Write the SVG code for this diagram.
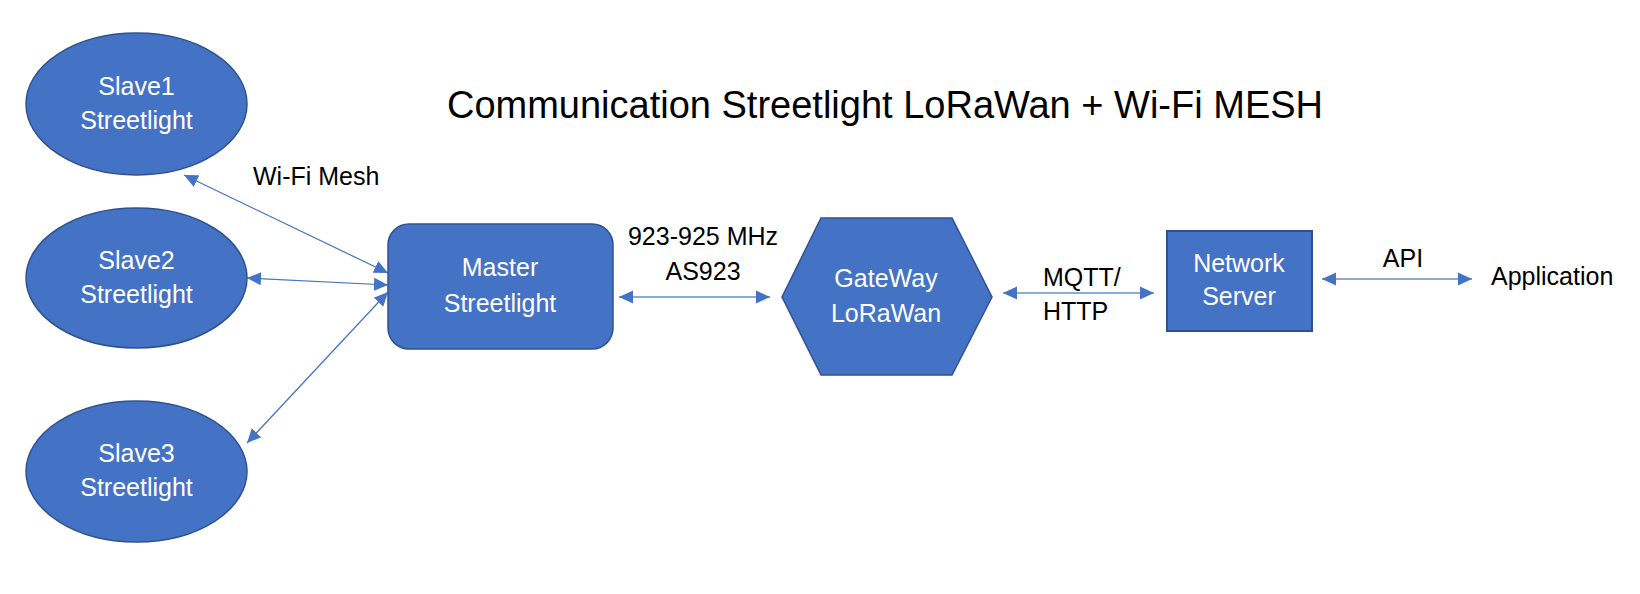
<svg xmlns="http://www.w3.org/2000/svg" width="1640" height="594" viewBox="0 0 1640 594">
<style>
.node{fill:#4472C4;stroke:#2F528F;stroke-width:1.5}
.nt{font-family:"Liberation Sans",Arial,sans-serif;font-size:25px;fill:#FFFFFF;text-anchor:middle}
.lbl{font-family:"Liberation Sans",Arial,sans-serif;font-size:25px;fill:#000000}
.mesh{fill:none;stroke:#4472C4;stroke-width:1.2;marker-start:url(#ah);marker-end:url(#ah)}
.link{fill:none;stroke:#8EA9DB;stroke-width:2.2;marker-start:url(#ah);marker-end:url(#ah)}
</style>
<defs>
<marker id="ah" markerUnits="userSpaceOnUse" markerWidth="14" markerHeight="14" viewBox="0 0 14 14" refX="14" refY="7" orient="auto-start-reverse">
<path d="M0,0.5 L14,7 L0,13.5 z" fill="#4472C4"/>
</marker>
</defs>
<rect width="1640" height="594" fill="#FFFFFF"/>
<text id="title" x="885" y="118" font-family="'Liberation Sans',Arial,sans-serif" font-size="38" fill="#000000" text-anchor="middle">Communication Streetlight LoRaWan + Wi-Fi MESH</text>
<g id="connectors">
<line class="mesh" x1="388" y1="273" x2="184" y2="175"/>
<line class="mesh" x1="388" y1="285" x2="247" y2="278"/>
<line class="mesh" x1="388" y1="292" x2="247" y2="443"/>
<line class="link" x1="619" y1="297" x2="770" y2="297"/>
<line class="link" x1="1003" y1="293" x2="1154" y2="293"/>
<line class="link" x1="1322" y1="279" x2="1472" y2="279"/>
<text class="lbl" x="253" y="185">Wi-Fi Mesh</text>
<text class="lbl" x="703" y="245" text-anchor="middle">923-925 MHz</text>
<text class="lbl" x="703" y="280" text-anchor="middle">AS923</text>
<text class="lbl" x="1043" y="286">MQTT/</text>
<text class="lbl" x="1043" y="320">HTTP</text>
<text class="lbl" x="1403" y="267" text-anchor="middle">API</text>
</g>
<g id="slave1">
<ellipse class="node" cx="136.5" cy="104" rx="110.5" ry="71"/>
<text class="nt" x="136.5" y="95">Slave1</text>
<text class="nt" x="136.5" y="129">Streetlight</text>
</g>
<g id="slave2">
<ellipse class="node" cx="136.5" cy="278" rx="110.5" ry="70"/>
<text class="nt" x="136.5" y="269">Slave2</text>
<text class="nt" x="136.5" y="303">Streetlight</text>
</g>
<g id="slave3">
<ellipse class="node" cx="136.5" cy="471.5" rx="110.5" ry="70.5"/>
<text class="nt" x="136.5" y="462">Slave3</text>
<text class="nt" x="136.5" y="496">Streetlight</text>
</g>
<g id="master">
<rect class="node" x="388" y="224" width="225" height="125" rx="21" ry="21"/>
<text class="nt" x="500" y="276">Master</text>
<text class="nt" x="500" y="312">Streetlight</text>
</g>
<g id="gateway">
<polygon class="node" points="782,297 821,218 952,218 992,297 952,375 821,375"/>
<text class="nt" x="886" y="287">GateWay</text>
<text class="nt" x="886" y="322">LoRaWan</text>
</g>
<g id="network-server">
<rect class="node" x="1167" y="231" width="145" height="100" style="stroke-width:2"/>
<text class="nt" x="1239" y="272">Network</text>
<text class="nt" x="1239" y="305">Server</text>
</g>
<g id="application">
<text class="lbl" x="1491" y="285">Application</text>
</g>
</svg>
